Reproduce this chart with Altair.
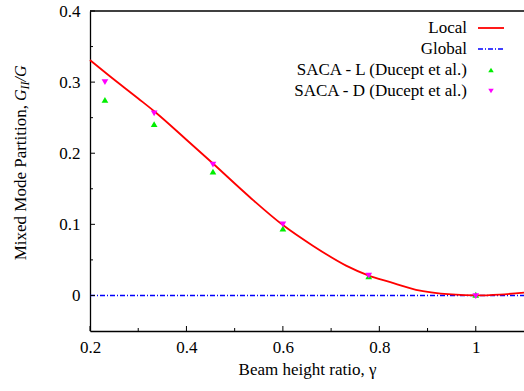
import altair as alt
import pandas as pd

# ---- data ----
local_x = [0.2, 0.238, 0.3, 0.335, 0.4, 0.455, 0.531, 0.6, 0.662, 0.731, 0.778, 0.821, 0.876, 0.95, 1.0, 1.05, 1.1]
local_y = [0.331, 0.310, 0.277, 0.258, 0.219, 0.1855, 0.1385, 0.099, 0.070, 0.042, 0.028, 0.019, 0.008, 0.0015, 0.0, 0.0012, 0.004]
global_x = [0.2, 1.1]
global_y = [0.0, 0.0]
saca_x = [0.231, 0.333, 0.455, 0.6, 0.778, 1.0]
sacaL_y = [0.275, 0.241, 0.174, 0.094, 0.027, 0.001]
sacaD_y = [0.300, 0.256, 0.184, 0.100, 0.028, -0.001]
legend_labels = ["Local", "Global", "SACA - L (Ducept et al.)", "SACA - D (Ducept et al.)"]
x_major = [0.2, 0.4, 0.6, 0.8, 1.0]
x_minor = [0.3, 0.5, 0.7, 0.9]
y_major = [0.0, 0.1, 0.2, 0.3, 0.4]
y_minor = [0.05, 0.15, 0.25, 0.35]

W, H = 434, 320
FONT = "Liberation Serif, Times New Roman, serif"
FS = 17
RED, BLUE, GREEN, MAG = "#ff0000", "#0000ff", "#00ee00", "#ff00ff"
DASH = [5, 2, 1, 2]

xsc = alt.Scale(domain=[0.2, 1.1], nice=False, zero=False)
ysc = alt.Scale(domain=[-0.05, 0.4], nice=False, zero=False)
X = alt.X("x:Q", scale=xsc, axis=alt.Axis(
    values=x_major, format="~g", title="Beam height ratio, γ", ticks=False, grid=False,
    labelFont=FONT, labelFontSize=FS, labelColor="black", labelPadding=8, labelFlush=False,
    titleFont=FONT, titleFontSize=FS, titleFontWeight="normal", titleColor="black", titlePadding=6,
    domainColor="black", domainWidth=1.3))
Y = alt.Y("y:Q", scale=ysc, axis=alt.Axis(
    values=y_major, format="~g", title=None, ticks=False, grid=False,
    labelFont=FONT, labelFontSize=FS, labelColor="black", labelPadding=10, labelFlush=False,
    domainColor="black", domainWidth=1.3))

df_local = pd.DataFrame({"x": local_x, "y": local_y})
df_global = pd.DataFrame({"x": global_x, "y": global_y})
df_L = pd.DataFrame({"x": saca_x, "y": sacaL_y})
df_D = pd.DataFrame({"x": saca_x, "y": sacaD_y})

layers = []
layers.append(alt.Chart(df_global).mark_line(color=BLUE, strokeWidth=1.4, strokeDash=DASH).encode(x=X, y=Y))
layers.append(alt.Chart(df_local).mark_line(color=RED, strokeWidth=1.8, interpolate="monotone").encode(x=X, y=Y))
layers.append(alt.Chart(df_L).mark_point(shape="triangle-up", filled=True, color=GREEN, size=45, opacity=1).encode(x=X, y=Y))
layers.append(alt.Chart(df_D).mark_point(shape="triangle-down", filled=True, color=MAG, size=45, opacity=1).encode(x=X, y=Y))

# inward ticks
for vals, ln in [(x_major, 5), (x_minor, 3)]:
    layers.append(alt.Chart(pd.DataFrame({"x": vals})).mark_rule(color="black", strokeWidth=1).encode(
        x=X, y=alt.value(H), y2=alt.value(H - ln)))
for vals, ln in [(y_major, 5), (y_minor, 3)]:
    layers.append(alt.Chart(pd.DataFrame({"y": vals})).mark_rule(color="black", strokeWidth=1).encode(
        y=Y, x=alt.value(0), x2=alt.value(ln)))

one = pd.DataFrame({"a": [0]})
# top border
layers.append(alt.Chart(one).mark_rule(color="black", strokeWidth=1.3).encode(
    x=alt.value(0), x2=alt.value(W), y=alt.value(0)))

# legend (gnuplot-style: label on left, sample on right)
row0, dy = 17, 21
lab_right, s0, s1 = 377, 388, 414
for i, lab in enumerate(legend_labels):
    yy = row0 + i * dy
    layers.append(alt.Chart(one).mark_text(text=lab, font=FONT, fontSize=FS, align="right",
                                           baseline="middle", color="black").encode(
        x=alt.value(lab_right), y=alt.value(yy)))
    if i == 0:
        layers.append(alt.Chart(one).mark_rule(color=RED, strokeWidth=1.8).encode(
            x=alt.value(s0), x2=alt.value(s1), y=alt.value(yy)))
    elif i == 1:
        layers.append(alt.Chart(one).mark_rule(color=BLUE, strokeWidth=1.4, strokeDash=DASH).encode(
            x=alt.value(s0), x2=alt.value(s1), y=alt.value(yy)))
    else:
        layers.append(alt.Chart(one).mark_point(shape="triangle-up" if i == 2 else "triangle-down",
                                                filled=True, opacity=1, size=30,
                                                color=GREEN if i == 2 else MAG).encode(
            x=alt.value((s0 + s1) / 2), y=alt.value(yy)))

# y-axis title with italic G_II/G
tx = -64
layers.append(alt.Chart(one).mark_text(text="Mixed Mode Partition,", font=FONT, fontSize=FS, angle=270,
                                       align="right", baseline="alphabetic", color="black").encode(
    x=alt.value(tx), y=alt.value(94)))
layers.append(alt.Chart(one).mark_text(text="G", font=FONT, fontSize=16, fontStyle="italic", angle=270,
                                       align="left", baseline="alphabetic", color="black").encode(
    x=alt.value(tx), y=alt.value(90)))
layers.append(alt.Chart(one).mark_text(text="II", font=FONT, fontSize=12, fontStyle="italic", angle=270,
                                       align="left", baseline="alphabetic", color="black").encode(
    x=alt.value(tx + 3), y=alt.value(78.5)))
layers.append(alt.Chart(one).mark_text(text="/G", font=FONT, fontSize=16, fontStyle="italic", angle=270,
                                       align="left", baseline="alphabetic", color="black").encode(
    x=alt.value(tx), y=alt.value(70.5)))

chart = alt.layer(*layers).properties(
    width=W, height=H,
    autosize=alt.AutoSizeParams(type="none"),
    padding={"left": 90, "top": 11, "right": 0, "bottom": 391 - 11 - H},
    background="white",
).configure_view(stroke=None)

chart.save("out.html", embed_options={"renderer": "svg", "actions": False})
